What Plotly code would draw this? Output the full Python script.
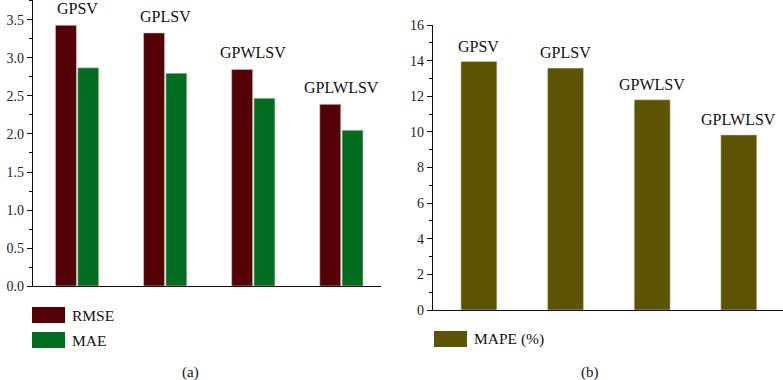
import plotly.graph_objects as go

methods = ["GPSV", "GPLSV", "GPWLSV", "GPLWLSV"]
rmse = [3.43, 3.33, 2.85, 2.39]
mae = [2.87, 2.80, 2.47, 2.05]
mape = [13.95, 13.58, 11.80, 9.83]
series_a = ["RMSE", "MAE"]
series_b = ["MAPE (%)"]
ticks_a = [0.0, 0.5, 1.0, 1.5, 2.0, 2.5, 3.0, 3.5]
ticks_b = [0, 2, 4, 6, 8, 10, 12, 14, 16]

C_RMSE = "#530007"
C_MAE = "#006d1f"
C_MAPE = "#5c5403"
FONT = "Liberation Serif"
W, H = 783, 380

fig = go.Figure()
fig.add_trace(go.Bar(x=methods, y=rmse, name=series_a[0], marker_color=C_RMSE,
                     width=0.238, offset=-0.245, xaxis="x", yaxis="y",
                     marker_line=dict(color="#d8c8c8", width=0.6)))
fig.add_trace(go.Bar(x=methods, y=mae, name=series_a[1], marker_color=C_MAE,
                     width=0.238, offset=0.008, xaxis="x", yaxis="y",
                     marker_line=dict(color="#c8d8c8", width=0.6)))
fig.add_trace(go.Bar(x=methods, y=mape, name=series_b[0], marker_color=C_MAPE,
                     width=0.415, xaxis="x2", yaxis="y2",
                     marker_line=dict(color="#d8d4c0", width=0.6)))

px = lambda v: v / W
py = lambda v: 1 - v / H

axis_common = dict(showline=True, linecolor="#111", linewidth=1.2, showgrid=False,
                   zeroline=False, automargin=False,
                   tickfont=dict(family=FONT, size=14, color="#222"))

fig.update_layout(
    template="none",
    width=W, height=H, margin=dict(l=0, r=0, t=0, b=0, pad=0),
    paper_bgcolor="white", plot_bgcolor="white",
    barmode="overlay", showlegend=False,
    font=dict(family=FONT, color="#222"),
    xaxis=dict(domain=[px(33), px(381)], range=[-0.5, 3.45], showticklabels=False,
               ticks="", anchor="y", **axis_common),
    yaxis=dict(domain=[py(286), 1], range=[0, 3.763], tickvals=ticks_a,
               ticktext=[f"{t:.1f}" for t in ticks_a], ticks="outside", ticklen=5,
               tickcolor="#111", minor=dict(dtick=0.25, ticks="outside", ticklen=3,
                                            tickcolor="#111"),
               anchor="x", **axis_common),
    xaxis2=dict(domain=[px(433), 1], range=[-0.53, 3.51], showticklabels=False,
                ticks="", anchor="y2", **axis_common),
    yaxis2=dict(domain=[py(310), py(25)], range=[0, 16], tickvals=ticks_b,
                ticks="outside", ticklen=5, tickcolor="#111",
                minor=dict(dtick=1, ticks="outside", ticklen=3, tickcolor="#111"),
                anchor="x2", **axis_common),
)

# category labels above bars
for i, m in enumerate(methods):
    fig.add_annotation(x=i, y=max(rmse[i], mae[i]), xref="x", yref="y", text=m,
                       showarrow=False, yanchor="bottom", yshift=6,
                       font=dict(family=FONT, size=16, color="#111"))
    fig.add_annotation(x=i, y=mape[i], xref="x2", yref="y2", text=m,
                       showarrow=False, yanchor="bottom", yshift=5,
                       font=dict(family=FONT, size=16, color="#111"))

# legends (manual)
leg = [(series_a[0], C_RMSE, 32, 307), (series_a[1], C_MAE, 32, 332),
       (series_b[0], C_MAPE, 434, 331)]
for name, col, x0, y0 in leg:
    fig.add_shape(type="rect", xref="paper", yref="paper", x0=px(x0), x1=px(x0 + 33),
                  y0=py(y0 + 16), y1=py(y0), fillcolor=col, line=dict(width=0))
    fig.add_annotation(xref="paper", yref="paper", x=px(x0 + 38), y=py(y0 + 8),
                       text=name, showarrow=False, xanchor="left", yanchor="middle",
                       font=dict(family=FONT, size=15.5, color="#111"))

for txt, xc in [("(a)", 190), ("(b)", 590)]:
    fig.add_annotation(xref="paper", yref="paper", x=px(xc), y=py(372), text=txt,
                       showarrow=False, xanchor="center", yanchor="middle",
                       font=dict(family=FONT, size=15, color="#111"))

fig.write_html("out.html", config={"displayModeBar": False},
               post_script="document.body.style.margin='0';document.body.style.overflow='hidden';")
